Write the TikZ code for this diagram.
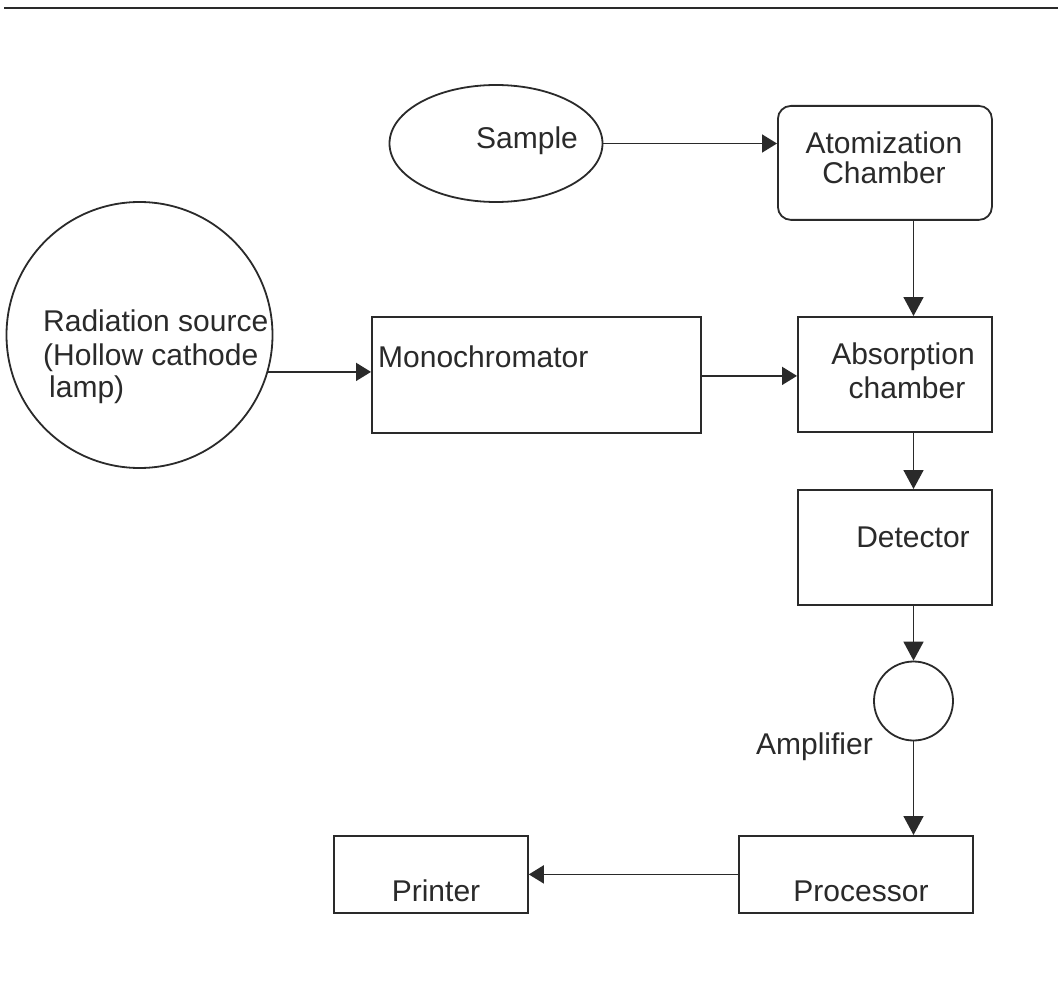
\documentclass[tikz,border=0pt]{standalone}
\usepackage{fontspec}
\setmainfont{Liberation Sans}
\usetikzlibrary{shapes.geometric,arrows.meta}
\definecolor{ink}{HTML}{2A2A2A}
\begin{document}
\begin{tikzpicture}[x=1pt,y=-1pt,
  every node/.style={text=ink,font=\fontsize{30}{33}\selectfont},
  box/.style={draw=ink,line width=1.8pt,rectangle,inner sep=0pt,anchor=north west},
  lbl/.style={inner sep=0pt,align=center},
  varr/.style={draw=ink,line width=1.7pt,-{Triangle[length=19pt,width=20pt]}},
  harr/.style={draw=ink,line width=1.7pt,-{Triangle[length=15pt,width=18pt]}}]
\useasboundingbox (0,0) rectangle (1058,1003);
\fill[white] (0,0) rectangle (1058,1003);
% top rule of the page
\draw[ink,line width=2.6pt] (4,8) -- (1058,8);

% shapes
\node[draw=ink,line width=1.8pt,ellipse,minimum width=213pt,minimum height=117pt,inner sep=0pt] (sample) at (496,143.5) {};
\node[lbl] (sampletxt) at (527,141) {Sample};

\node[box,rounded corners=13pt,minimum width=214pt,minimum height=114pt] (atom) at (777,105) {};
\node[lbl] (atomtxt) at (884,158) {Atomization\\[-3pt]Chamber};

\node[draw=ink,line width=1.8pt,circle,minimum size=266pt,inner sep=0pt] (rad) at (139.5,335) {};
\node[inner sep=0pt,align=left,anchor=west] (radtxt) at (43,357) {Radiation source\\[1pt](Hollow cathode\\[-1pt]\hspace*{6pt}lamp)};

\node[box,minimum width=329pt,minimum height=116pt] (mono) at (371,316) {};
\node[inner sep=0pt,anchor=west] (monotxt) at (378,357) {Monochromator};

\node[box,minimum width=194pt,minimum height=115pt] (absorb) at (797,316) {};
\node[lbl] (absorbtxt) at (903,371) {Absorption\\[1pt]\hspace*{8pt}chamber};

\node[box,minimum width=194pt,minimum height=115pt] (det) at (797,489) {};
\node[lbl] (dettxt) at (913,537) {Detector};

\node[draw=ink,line width=1.8pt,circle,minimum size=79pt,inner sep=0pt] (amp) at (913.5,701) {};
\node[inner sep=0pt,anchor=east] (amptxt) at (873,747) {Amplifier};

\node[box,minimum width=234pt,minimum height=77pt] (proc) at (738,835) {};
\node[lbl] (proctxt) at (861,891) {Processor};

\node[box,minimum width=194pt,minimum height=77pt] (printer) at (333,835) {};
\node[lbl] (printtxt) at (436,891) {Printer};

% connectors
\draw[harr] (sample.east) -- (sample.east -| atom.west);
\draw[varr] (atom.south -| amp.center) -- (absorb.north -| amp.center);
\draw[harr] (rad.-16.15) -- (rad.-16.15 -| mono.west);
\draw[harr] ([yshift=-1pt]mono.east) -- ([yshift=-1pt]mono.east -| absorb.west);
\draw[varr] (absorb.south -| amp.center) -- (det.north -| amp.center);
\draw[varr] (det.south -| amp.center) -- (amp.north);
\draw[varr] (amp.south) -- (proc.north -| amp.center);
\draw[harr] (proc.west) -- (proc.west -| printer.east);
\end{tikzpicture}
\end{document}
